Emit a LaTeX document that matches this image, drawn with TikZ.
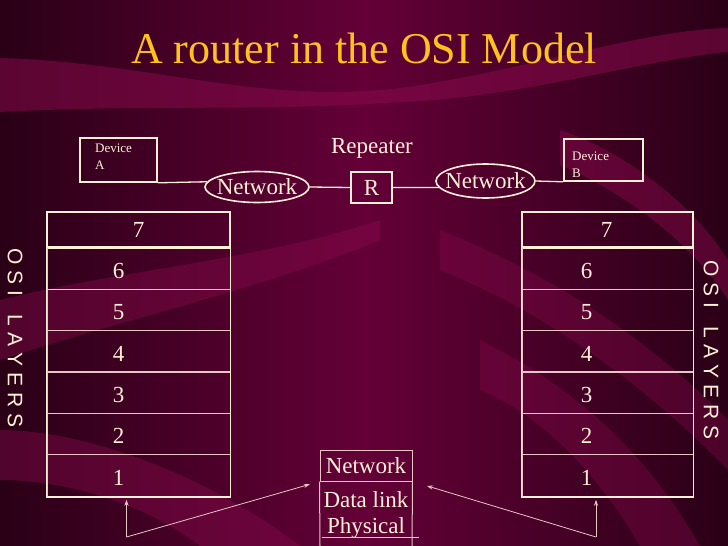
\documentclass[tikz,border=0pt]{standalone}
\usepackage{fontspec}
\setmainfont{Liberation Serif}
\newfontfamily\osifont{Liberation Sans}
\usetikzlibrary{shapes.geometric,arrows.meta}
\definecolor{bgdark}{HTML}{2A0016}
\definecolor{bgmid}{HTML}{640037}
\definecolor{band}{HTML}{8C0A4E}
\definecolor{cream}{HTML}{FFF0D6}
\definecolor{thinln}{HTML}{E8C6C4}
\definecolor{gold}{HTML}{FFC11C}
\begin{document}
\begin{tikzpicture}[x=1pt,y=-1pt,
  box/.style={draw=cream,line width=1.6pt,inner sep=0pt},
  rowbox/.style={draw=thinln,line width=1pt,inner sep=0pt},
  txt/.style={text=cream,font=\fontsize{23}{23}\selectfont,inner sep=0pt},
  small/.style={text=cream,font=\fontsize{13}{16.5}\selectfont,inner sep=0pt,align=left},
  oval/.style={ellipse,draw=cream,line width=1.6pt,inner sep=0pt},
  link/.style={draw=cream,line width=1.3pt},
  arr/.style={draw=thinln,line width=0.8pt,-{Stealth[length=6pt,width=4pt]}},
  osi/.style={text=cream,font=\osifont\fontsize{21}{21}\selectfont,rotate=-90,inner sep=0pt}]
\useasboundingbox (0,0) rectangle (728,546);
\begin{scope}
\clip (0,0) rectangle (728,546);
\shade[left color=bgdark,right color=bgdark,middle color=bgmid] (0,0) rectangle (728,546);
% decorative bands
\fill[band,opacity=0.5] (0,58) .. controls (150,62) and (260,105) .. (400,88) .. controls (520,72) and (640,30) .. (728,28) -- (728,52) .. controls (640,60) and (520,98) .. (400,102) .. controls (260,112) and (150,104) .. (0,112) -- cycle;
\fill[band,opacity=0.4] (0,300) .. controls (120,270) and (260,260) .. (380,220) -- (380,240) .. controls (260,290) and (120,320) .. (0,360) -- cycle;
\fill[band,opacity=0.4] (0,430) .. controls (80,430) and (200,470) .. (300,546) -- (200,546) .. controls (140,500) and (60,480) .. (0,480) -- cycle;
\fill[band,opacity=0.35] (440,230) .. controls (540,270) and (640,330) .. (728,420) -- (728,470) .. controls (640,380) and (540,310) .. (440,270) -- cycle;
\fill[band,opacity=0.35] (480,340) .. controls (560,380) and (640,440) .. (700,546) -- (640,546) .. controls (590,460) and (530,410) .. (480,390) -- cycle;
\fill[band,opacity=0.45] (560,130) .. controls (620,150) and (690,200) .. (728,260) -- (728,300) .. controls (690,240) and (620,190) .. (560,165) -- cycle;
\end{scope}

% title
\node[text=gold,font=\fontsize{44}{44}\selectfont,inner sep=0pt] (title) at (364,48) {A router in the OSI Model};

% top row
\node[box,minimum width=77pt,minimum height=44pt] (devA) at (118.5,160) {};
\node[small,anchor=north west] (devAt) at (95,144) {Device\\A};
\node[box,minimum width=79pt,minimum height=42pt] (devB) at (603.5,160) {};
\node[small,anchor=north west] (devBt) at (572,152) {Device\\B};
\node[oval,minimum width=104pt,minimum height=31pt] (netL) at (257,187) {};
\node[txt] at (netL) {Network};
\node[oval,minimum width=99pt,minimum height=34pt] (netR) at (485.5,181) {};
\node[txt] at (netR) {Network};
\node[box,minimum width=41pt,minimum height=31pt] (R) at (371.5,187.5) {};
\node[txt] at (R) {R};
\node[txt] (rep) at (372,148) {Repeater};
\draw[link] (devA.south east) -- (netL.174);
\draw[link] (netL.east) -- (R.west);
\draw[link] (R.east) -- (netR.188);
\draw[link] (netR.east) -- (devB.south west);

% left stack
\node[box,minimum width=183pt,minimum height=36pt] (L7) at (138.5,230) {};
\node[txt] at (L7) {7};
\foreach \n/\y in {6/268.5,5/310,4/351.5,3/392.5,2/434,1/475.5}{
  \node[rowbox,minimum width=183pt,minimum height=41.5pt] (L\n) at (138.5,\y) {};
  \node[txt] at ([xshift=-20pt,yshift=-2pt]L\n.center) {\n};
}
\draw[box] (L6.north west) rectangle (L1.south east);

% right stack
\node[box,minimum width=171pt,minimum height=36pt] (R7) at (607.5,230) {};
\node[txt] at ([xshift=-1pt]R7.center) {7};
\foreach \n/\y in {6/268.5,5/310,4/351.5,3/392.5,2/434,1/475.5}{
  \node[rowbox,minimum width=171pt,minimum height=41.5pt] (R\n) at (607.5,\y) {};
  \node[txt] at ([xshift=-21pt,yshift=-2pt]R\n.center) {\n};
}
\draw[box] (R6.north west) rectangle (R1.south east);

% side labels
\node[osi] (osiL) at (15,338) {O\hspace{6pt}S\hspace{6pt}I\hspace{6pt} \hspace{6pt}L\hspace{6pt}A\hspace{6pt}Y\hspace{6pt}E\hspace{6pt}R\hspace{6pt}S};
\node[osi] (osiR) at (711,350) {O\hspace{6pt}S\hspace{6pt}I\hspace{6pt} \hspace{6pt}L\hspace{6pt}A\hspace{6pt}Y\hspace{6pt}E\hspace{6pt}R\hspace{6pt}S};

% bottom router stack
\node[rowbox,minimum width=92pt,minimum height=31pt] (bNet) at (366,465.5) {};
\node[txt] at (bNet) {Network};
\coordinate (bLL) at (320,546);
\coordinate (bLR) at (412,546);
\draw[rowbox] (bNet.south west) -- (bLL);
\draw[rowbox] (bNet.south east) -- (bLR);
\node[txt] (dl) at (366,500) {Data link};
\node[txt] (ph) at (366,528) {Physical};
\coordinate (phA) at (322,537.5);
\coordinate (phB) at (419,537.5);
\draw[rowbox] (phA) -- (phB);

% arrows
\coordinate (aL) at (126.5,537);
\coordinate (aR) at (596,537);
\draw[arr,shorten >=3pt] (aL) -- (aL |- L1.south);
\draw[arr,shorten >=10pt] (aL) -- (bNet.south west);
\draw[arr,shorten >=3pt] (aR) -- (aR |- R1.south);
\draw[arr,shorten >=15pt] (aR) -- (bNet.south east);
\end{tikzpicture}
\end{document}
